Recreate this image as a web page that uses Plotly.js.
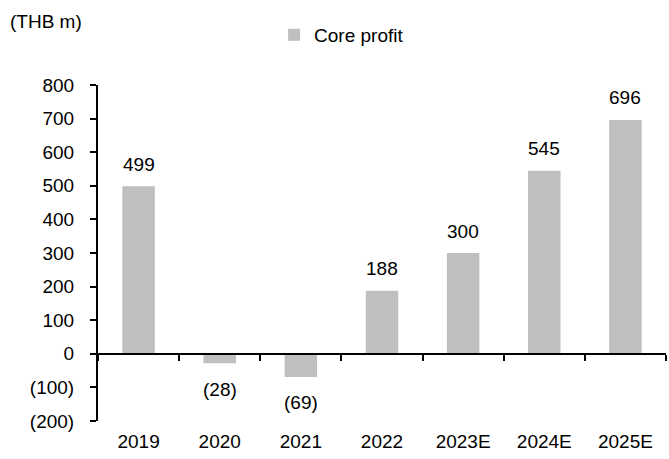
<!DOCTYPE html>
<html><head><meta charset="utf-8">
<script src="https://cdn.plot.ly/plotly-3.0.1.min.js"></script>
<style>html,body{margin:0;padding:0;background:#fff}#chart{width:669px;height:459px}</style>
</head><body><div id="chart"></div>
<script>
const categories = ["2019","2020","2021","2022","2023E","2024E","2025E"];
const coreProfit = [499,-28,-69,188,300,545,696];
const yTickVals = [-200,-100,0,100,200,300,400,500,600,700,800];
const yTickText = ["(200)","(100)","0","100","200","300","400","500","600","700","800"];
const seriesName = "Core profit";
const unitLabel = "(THB m)";

function fmt(v){ return v < 0 ? "(" + Math.abs(v) + ")" : String(v); }

const font = {family:"Liberation Sans, Arial, sans-serif", size:19, color:"#000"};

const trace = {
  type:"bar", x:categories, y:coreProfit, name:seriesName,
  marker:{color:"#BFBFBF"}, hoverinfo:"none"
};

const valueLabels = categories.map((c,i)=>({
  x:i, y:coreProfit[i], xref:"x", yref:"y", text:fmt(coreProfit[i]), showarrow:false,
  yanchor:"middle", yshift: coreProfit[i] < 0 ? -26 : 22, font:font
}));

const layout = {
  width:669, height:459,
  margin:{l:98, r:3, t:85, b:38},
  paper_bgcolor:"#fff", plot_bgcolor:"#fff",
  font:font,
  bargap:0.6,
  showlegend:true,
  legend:{orientation:"h", x:0.31, xanchor:"left", y:1.149, yanchor:"middle", font:font, bgcolor:"rgba(0,0,0,0)"},
  xaxis:{type:"category", categoryorder:"array", categoryarray:categories,
    range:[-0.5, categories.length-0.5], autorange:false,
    anchor:"free", position:0.2, showline:true, linecolor:"#000", linewidth:2,
    ticks:"outside", tickson:"boundaries", ticklen:6, tickwidth:2, tickcolor:"#000",
    ticklabelstandoff:70, tickangle:0, showgrid:false, zeroline:false, tickfont:font},
  yaxis:{range:[-200,800], autorange:false, tickvals:yTickVals, ticktext:yTickText, showline:true, linecolor:"#000", linewidth:2,
    ticks:"outside", ticklen:6, tickwidth:2, tickcolor:"#000", ticklabelstandoff:12,
    showgrid:false, zeroline:false, tickfont:font},
  annotations:[{text:unitLabel, xref:"paper", yref:"paper", x:-0.158, xanchor:"left", y:1.19, yanchor:"middle",
    showarrow:false, font:font}].concat(valueLabels)
};
Plotly.newPlot("chart",[trace],layout,{displayModeBar:false,staticPlot:true});
</script></body></html>
